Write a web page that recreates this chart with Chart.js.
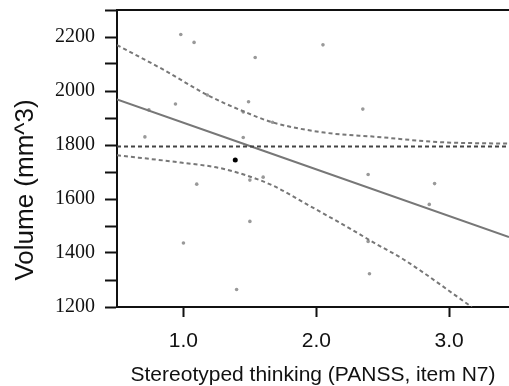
<!DOCTYPE html>
<html>
<head>
<meta charset="utf-8">
<script src="https://cdn.jsdelivr.net/npm/chart.js@4.4.1/dist/chart.umd.min.js"></script>
<style>
  html, body { margin: 0; padding: 0; background: #fff; }
  #wrap { width: 509px; height: 386px; position: relative; }
</style>
</head>
<body>
<div id="wrap"><canvas id="chart"></canvas></div>
<script>
// subjects: PANSS N7 score vs volume
const scoreX  = [0.98, 1.08, 0.94, 0.74, 0.71, 1.18, 1.45, 1.45, 1.49, 1.10, 1.00, 1.40, 1.50,
                 1.54, 2.05, 2.35, 1.67, 1.50, 1.60, 2.39, 2.39, 2.40, 2.89, 2.85];
const volumeY = [2209, 2180, 1952, 1930, 1830, 1985, 1922, 1828, 1960, 1655, 1437, 1265, 1517,
                 2124, 2171, 1933, 1884, 1670, 1681, 1691, 1443, 1323, 1657, 1580];
const markedX = [1.39];
const markedY = [1744];

// regression fit, mean level and confidence band
const fitX   = [0.5, 3.45];
const fitY   = [1969, 1459];
const meanX  = [0.5, 3.45];
const meanY  = [1794, 1794];
const upperX = [0.5, 0.86, 1.18, 1.45, 1.67, 2.06, 2.46, 2.91, 3.45];
const upperY = [2170, 2076, 1985, 1925, 1884, 1846, 1830, 1811, 1805];
const lowerX = [0.5, 0.98, 1.26, 1.47, 1.68, 1.93, 2.18, 2.46, 2.66, 3.17];
const lowerY = [1762, 1735, 1716, 1688, 1648, 1580, 1511, 1431, 1375, 1200];

const xTicks = [1, 2, 3];
const yLabelTicks = [1200, 1400, 1600, 1800, 2000, 2200];

const pairs = (xs, ys) => xs.map((x, i) => ({ x, y: ys[i] }));
const INK = '#111';

const lineSet = (data, color, dash) => ({
  data, showLine: true, borderColor: color, borderWidth: 2, borderDash: dash || [],
  pointRadius: 0, cubicInterpolationMode: 'monotone', fill: false,
});

// top frame line + rotated y title
const frame = {
  id: 'frame',
  afterDraw(chart) {
    const { ctx, chartArea: a } = chart;
    ctx.save();
    ctx.strokeStyle = INK;
    ctx.lineWidth = 2;
    ctx.beginPath();
    ctx.moveTo(a.left, a.top);
    ctx.lineTo(a.right, a.top);
    ctx.stroke();
    ctx.translate(26, 190);
    ctx.rotate(-Math.PI / 2);
    ctx.fillStyle = INK;
    ctx.font = '26px "Liberation Sans", Arial, sans-serif';
    ctx.textAlign = 'center';
    ctx.textBaseline = 'middle';
    ctx.fillText('Volume (mm^3)', 0, 0);
    ctx.restore();
  },
};

new Chart(document.getElementById('chart'), {
  type: 'scatter',
  data: {
    datasets: [
      lineSet(pairs(upperX, upperY), '#777', [4, 3]),
      lineSet(pairs(lowerX, lowerY), '#777', [4, 3]),
      lineSet(pairs(meanX, meanY), '#444', [4, 3]),
      lineSet(pairs(fitX, fitY), '#777'),
      { data: pairs(scoreX, volumeY), pointRadius: 1.8, backgroundColor: '#999', borderWidth: 0 },
      { data: pairs(markedX, markedY), pointRadius: 2.5, backgroundColor: '#000', borderWidth: 0 },
    ],
  },
  options: {
    responsive: true,
    maintainAspectRatio: false,
    animation: false,
    layout: { autoPadding: false, padding: { top: 10, right: 0, left: 0, bottom: 0 } },
    plugins: { legend: { display: false }, tooltip: { enabled: false } },
    scales: {
      x: {
        type: 'linear', min: 0.5, max: 3.45,
        afterBuildTicks: s => { s.ticks = xTicks.map(v => ({ value: v })); },
        afterFit: s => { s.height = 79; s.paddingLeft = 0; s.paddingRight = 0; },
        ticks: {
          color: INK, padding: 12,
          font: { family: '"Liberation Sans", Arial, sans-serif', size: 21 },
          callback: v => v.toFixed(1),
        },
        grid: { drawOnChartArea: false, tickLength: 10, tickWidth: 2, tickColor: INK },
        border: { color: INK, width: 2 },
        title: {
          display: true, text: 'Stereotyped thinking (PANSS, item N7)', color: INK,
          font: { family: '"Liberation Sans", Arial, sans-serif', size: 21 },
          padding: { top: 0, bottom: -2 },
        },
      },
      y: {
        type: 'linear', min: 1200, max: 2300,
        afterFit: s => { s.width = 117; s.paddingTop = 0; s.paddingBottom = 0; },
        ticks: {
          stepSize: 100, color: INK, padding: 10,
          font: { family: '"Liberation Serif", "Times New Roman", serif', size: 20 },
          callback: v => yLabelTicks.includes(v) ? v : '',
        },
        grid: { drawOnChartArea: false, tickLength: 12, tickWidth: 2, tickColor: INK },
        border: { color: INK, width: 2 },
      },
    },
  },
  plugins: [frame],
});
</script>
</body>
</html>
